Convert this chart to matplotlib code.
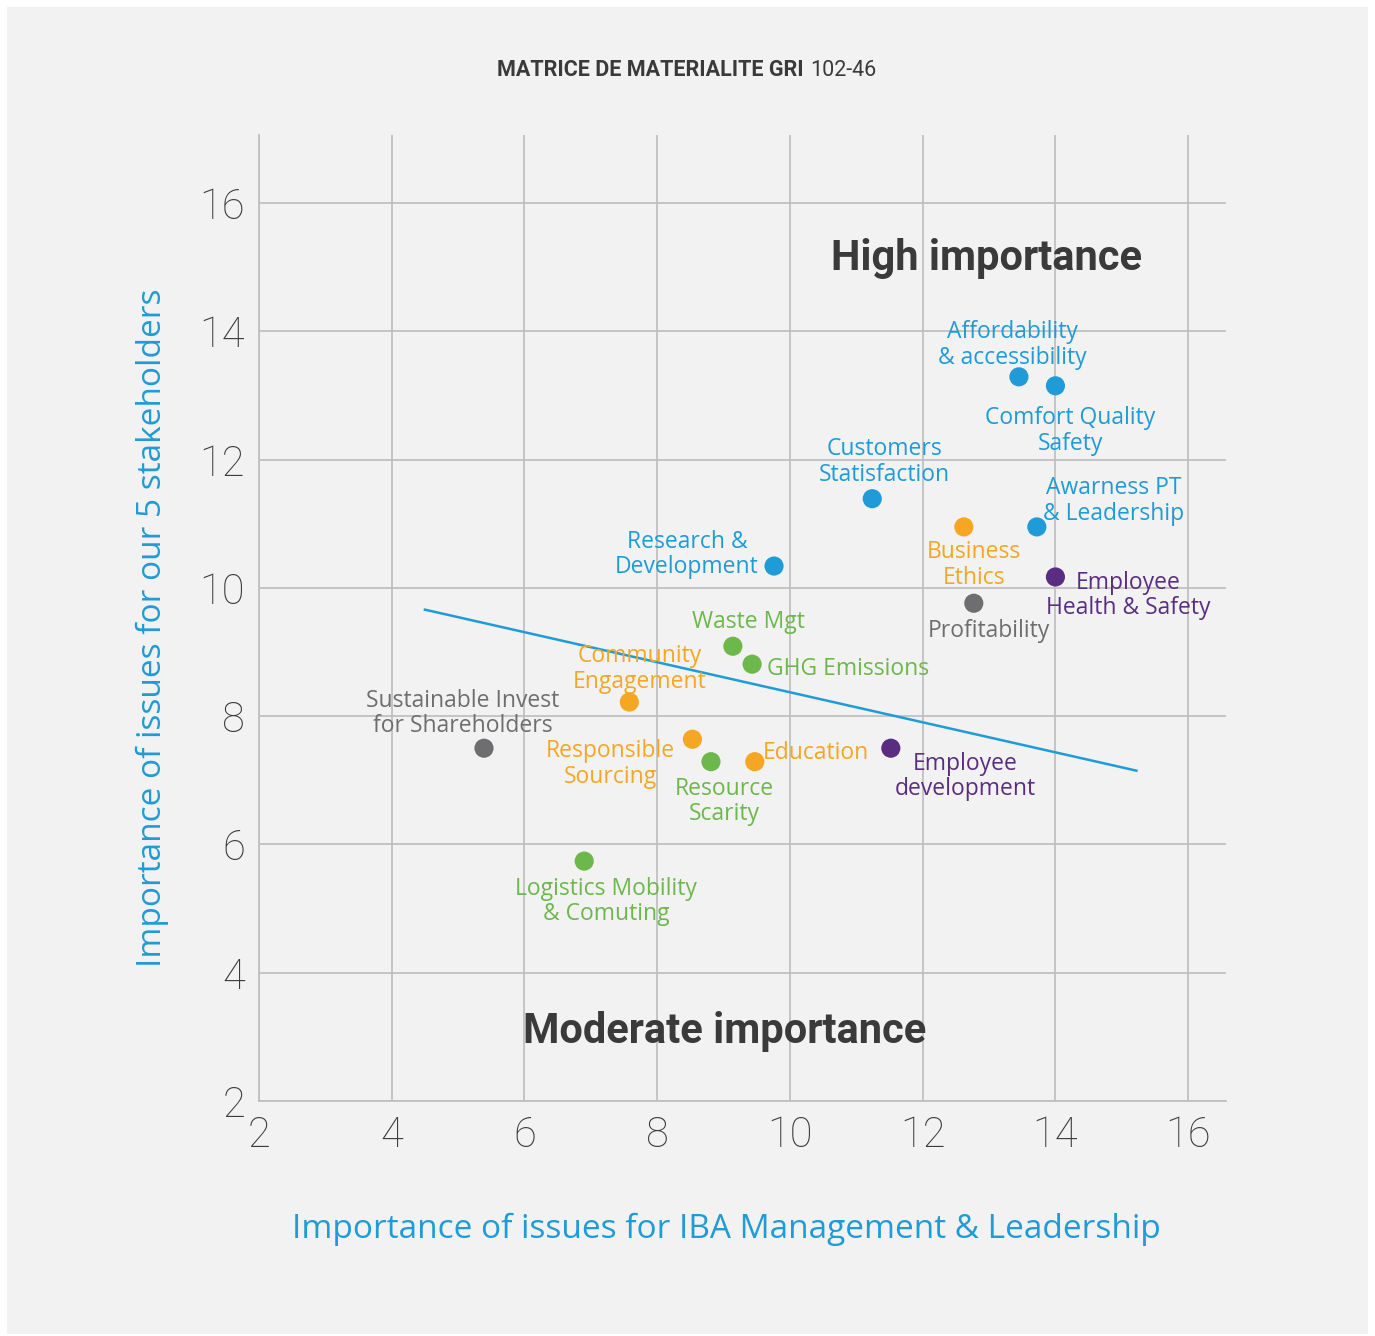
import matplotlib
matplotlib.use('Agg')
import matplotlib.pyplot as plt
import numpy as np

plt.rcParams['font.family'] = ['Open Sans', 'DejaVu Sans']

BLUE = '#1f9bd7'
ORANGE = '#f6a623'
GREEN = '#6cb84b'
PURPLE = '#5a2d82'
GREY = '#6e6e70'
DARK = '#3a3a3a'

# issues: management importance (x), stakeholder importance (y)
issues = ['Affordability\n& accessibility', 'Comfort Quality\nSafety', 'Customers\nStatisfaction',
          'Awarness PT\n& Leadership', 'Research &\nDevelopment', 'Business\nEthics',
          'Employee\nHealth & Safety', 'Profitability', 'Waste Mgt', 'GHG Emissions',
          'Community\nEngagement', 'Sustainable Invest\nfor Shareholders', 'Responsible\nSourcing',
          'Resource\nScarity', 'Education', 'Employee\ndevelopment', 'Logistics Mobility\n& Comuting']
x_mgmt = [13.45, 14.0, 11.24, 13.72, 9.76, 12.62, 14.0, 12.77, 9.14, 9.43,
          7.58, 5.39, 8.53, 8.81, 9.47, 11.52, 6.90]
y_stake = [13.29, 13.15, 11.39, 10.95, 10.34, 10.95, 10.17, 9.76, 9.09, 8.81,
           8.22, 7.50, 7.64, 7.29, 7.29, 7.50, 5.74]
groups = ['customer', 'customer', 'customer', 'customer', 'customer', 'social',
          'people', 'economic', 'environment', 'environment',
          'social', 'economic', 'social', 'environment', 'social', 'people', 'environment']

# trend line end points
trend_x = [4.50, 15.22]
trend_y = [9.66, 7.15]

group_colors = {'customer': BLUE, 'social': ORANGE, 'environment': GREEN,
                'people': PURPLE, 'economic': GREY}

# label anchor (x, y, ha) for each issue
label_pos = [(13.35, 13.79, 'center'), (14.22, 12.45, 'center'), (11.43, 11.96, 'center'),
             (14.88, 11.36, 'center'), (8.45, 10.52, 'center'), (12.77, 10.36, 'center'),
             (15.10, 9.88, 'center'), (13.0, 9.33, 'center'), (9.38, 9.46, 'center'),
             (9.66, 8.74, 'left'), (7.73, 8.74, 'center'), (5.07, 8.04, 'center'),
             (7.30, 7.25, 'center'), (9.01, 6.67, 'center'), (9.59, 7.43, 'left'),
             (12.64, 7.06, 'center'), (7.23, 5.11, 'center')]

W, H = 1375, 1336
fig = plt.figure(figsize=(W / 100, H / 100), dpi=100)
fig.patch.set_facecolor('white')
fig.patches.append(plt.Rectangle((7 / W, 2 / H), 1361 / W, 1327 / H,
                                 transform=fig.transFigure, facecolor='#f2f2f2',
                                 edgecolor='none', zorder=-10))

ax = fig.add_axes([259 / W, 1 - 1101 / H, (1226 - 259) / W, (1101 - 135) / H])
ax.set_facecolor('#f2f2f2')
ax.set_xlim(2, 16.57)
ax.set_ylim(2, 17.06)
ax.set_xticks(np.arange(2, 17, 2))
ax.set_yticks(np.arange(2, 17, 2))
ax.grid(True, color='#bdbdbd', linewidth=1.2)
ax.set_axisbelow(True)
for s in ['top', 'right']:
    ax.spines[s].set_visible(False)
for s in ['left', 'bottom']:
    ax.spines[s].set_color('#bdbdbd')
    ax.spines[s].set_linewidth(1.2)
ax.tick_params(length=0, labelsize=30, labelcolor=DARK)
ax.tick_params(axis='x', pad=10)
ax.tick_params(axis='y', pad=10)
for lbl in ax.get_xticklabels() + ax.get_yticklabels():
    lbl.set_family('Roboto')
    lbl.set_fontweight('light')

ax.plot(trend_x, trend_y, color=BLUE, linewidth=1.8, zorder=2)

cols = [group_colors[g] for g in groups]
ax.scatter(x_mgmt, y_stake, s=190, c=cols, edgecolors='none', zorder=4)

for name, c, (lx, ly, ha) in zip(issues, cols, label_pos):
    ax.text(lx, ly, name, color=c, fontsize=16.5, ha=ha, va='center',
            linespacing=1.1, zorder=3)

ax.text(12.96, 15.13, 'High importance', fontsize=30, fontweight='bold',
        color=DARK, ha='center', va='center', family='Roboto')
ax.text(9.01, 3.09, 'Moderate importance', fontsize=30, fontweight='bold',
        color=DARK, ha='center', va='center', family='Roboto')

fig.text(726 / W, 1 - 1229 / H, 'Importance of issues for IBA Management & Leadership',
         fontsize=24, color=BLUE, ha='center', va='center')
fig.text(152 / W, 1 - 628 / H, 'Importance of issues for our 5 stakeholders',
         fontsize=24, color=BLUE, ha='center', va='center', rotation=90)

fig.text(804 / W, 1 - 70 / H, 'MATRICE DE MATERIALITE GRI', fontsize=15.5,
         fontweight='bold', color=DARK, ha='right', va='center', family='Roboto')
fig.text(810 / W, 1 - 70 / H, '102-46', fontsize=15.5, color=DARK, ha='left',
         va='center', family='Roboto')

fig.savefig('out.png', dpi=100, facecolor=fig.get_facecolor())
